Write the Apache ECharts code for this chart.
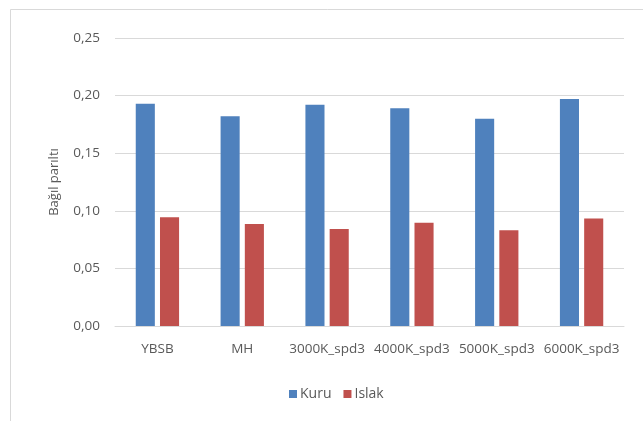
<!DOCTYPE html>
<html><head><meta charset="utf-8">
<script src="https://cdn.jsdelivr.net/npm/echarts@6/dist/echarts.min.js"></script>
<style>html,body{margin:0;padding:0;background:#fff}#c{width:643px;height:421px}</style>
</head><body><div id="c"></div>
<script>
const categories = ['YBSB','MH','3000K_spd3','4000K_spd3','5000K_spd3','6000K_spd3'];
const kuru = [0.193, 0.182, 0.192, 0.189, 0.180, 0.197];
const islak = [0.0945, 0.0885, 0.0843, 0.0896, 0.0832, 0.0934];
const yTicks = [0, 0.05, 0.10, 0.15, 0.20, 0.25];

const chart = echarts.init(document.getElementById('c'), null, {renderer:'canvas'});
const font = 'Open Sans';
chart.setOption({
  animation:false,
  backgroundColor:'#fff',
  graphic:[{type:'rect', shape:{x:10.5,y:9.5,width:700,height:500}, style:{fill:'none',stroke:'#d9d9d9',lineWidth:1}, silent:true}],
  grid:{left:115,right:19,top:38,bottom:95,containLabel:false},
  legend:{top:382,left:284,itemWidth:8,itemHeight:8,itemGap:12,icon:'rect',
    textStyle:{color:'#595959',fontSize:14,fontFamily:font,padding:[0,0,0,-2]},
    data:['Kuru','Islak']},
  xAxis:{type:'category',data:categories,
    axisLine:{lineStyle:{color:'#d9d9d9',width:1}},axisTick:{show:false},
    axisLabel:{color:'#595959',fontSize:13.5,fontFamily:font,margin:16,interval:0}},
  yAxis:{type:'value',min:0,max:0.25,interval:0.05,
    name:'Bağıl parıltı',nameLocation:'middle',nameGap:54,nameRotate:90,
    nameTextStyle:{color:'#595959',fontSize:13,fontFamily:font},
    axisLine:{show:false},axisTick:{show:false},
    splitLine:{lineStyle:{color:'#d9d9d9',width:1}},
    axisLabel:{color:'#595959',fontSize:13.5,fontFamily:font,margin:15,
      formatter:v=>{const t=yTicks.find(x=>Math.abs(x-v)<1e-9);return (t!==undefined?t:v).toFixed(2).replace('.',',');}}},
  series:[
    {name:'Kuru',type:'bar',data:kuru,barWidth:'22.5%',barGap:'27%',itemStyle:{color:'#4f81bd'}},
    {name:'Islak',type:'bar',data:islak,barWidth:'22.5%',itemStyle:{color:'#c0504d'}}
  ]
});
</script></body></html>
